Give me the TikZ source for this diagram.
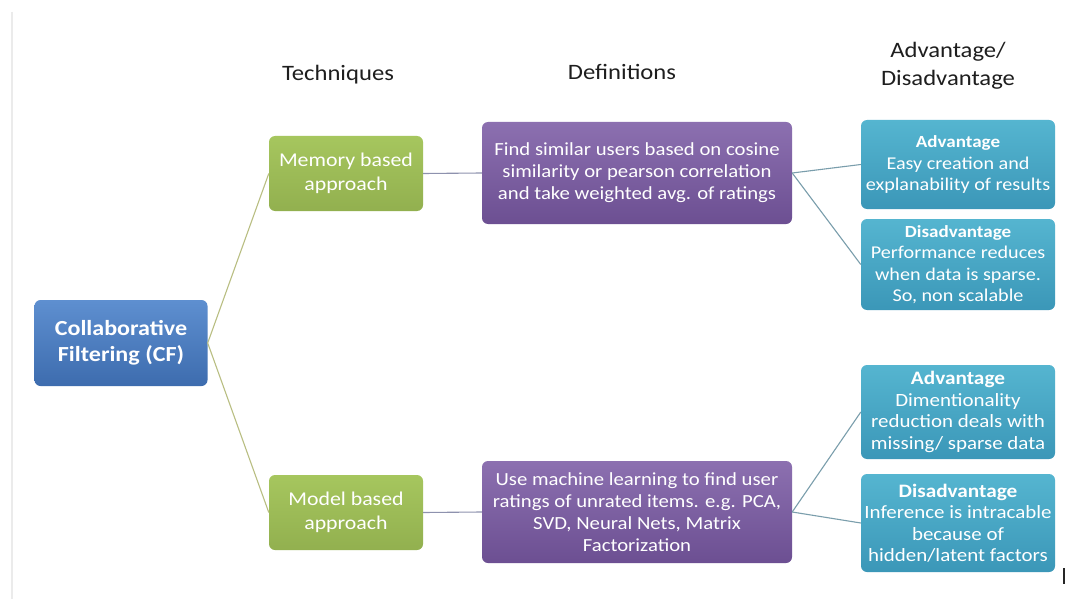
\documentclass[tikz,border=0pt]{standalone}
\usepackage{fontspec}
\setmainfont{Carlito}[FakeStretch=1.12]
\definecolor{cfblueT}{HTML}{5E8FD0}
\definecolor{cfblueB}{HTML}{3D6CAE}
\definecolor{greenT}{HTML}{A6C65E}
\definecolor{greenB}{HTML}{92B04F}
\definecolor{purpT}{HTML}{8C70B0}
\definecolor{purpB}{HTML}{6C4F92}
\definecolor{tealT}{HTML}{55B5D0}
\definecolor{tealB}{HTML}{3B97B8}
\definecolor{lnGreen}{HTML}{B9BE82}
\definecolor{lnPurp}{HTML}{8E92AE}
\definecolor{lnTeal}{HTML}{7A9EAC}
\definecolor{hdr}{HTML}{1E1E1E}
\tikzset{
  box/.style={rounded corners=6pt, align=center, text=white, inner sep=0pt,
    shading=axis, shading angle=0},
  cfbox/.style={box, top color=cfblueT, bottom color=cfblueB,
    minimum width=173pt, minimum height=86pt, font=\fontsize{21.5}{26}\selectfont\bfseries},
  techbox/.style={box, top color=greenT, bottom color=greenB,
    minimum width=154pt, minimum height=75pt, font=\fontsize{19.5}{23.5}\selectfont},
  defbox/.style={box, top color=purpT, bottom color=purpB,
    minimum width=310pt, minimum height=102pt, font=\fontsize{18.5}{22}\selectfont},
  advbox/.style={box, top color=tealT, bottom color=tealB,
    minimum width=194pt, font=\fontsize{18}{21.5}\selectfont},
  advboxb/.style={advbox, font=\fontsize{18.7}{21.5}\selectfont},
  header/.style={text=hdr, align=center, font=\fontsize{22}{28}\selectfont},
  link/.style={line width=1.1pt}
}
\begin{document}
\begin{tikzpicture}[x=1pt, y=-1pt]
  \useasboundingbox[fill=white] (0,0) rectangle (1076,599);
  % faint frame edge on the left
  \draw[black!8, line width=1.5pt] (12,12) -- (12,599);

  % column headers
  \node[header] (hTech) at (338,75) {Techniques};
  \node[header] (hDef) at (622,72) {Definitions};
  \node[header] (hAdv) at (948,66) {Advantage/\\Disadvantage};

  % root
  \node[cfbox] (cf) at (121,343) {Collaborative\\Filtering (CF)};

  % techniques
  \node[techbox] (mem) at (346,173.5) {Memory based\\approach};
  \node[techbox] (mod) at (346,512.5) {Model based\\approach};

  % definitions
  \node[defbox] (def1) at (637,173) {Find similar users based on cosine\\similarity or pearson correlation\\and take weighted avg. of ratings};
  \node[defbox] (def2) at (637,512) {Use machine learning to find user\\ratings of unrated items. e.g. PCA,\\SVD, Neural Nets, Matrix\\Factorization};

  % advantages / disadvantages
  \node[advbox, minimum height=89pt] (adv1) at (958,164.5) {{\fontsize{17}{21.5}\selectfont\textbf{Advantage}}\\Easy creation and\\explanability of results};
  \node[advbox, minimum height=91pt] (dis1) at (958,264.5) {{\fontsize{17}{21.5}\selectfont\textbf{Disadvantage}}\\Performance reduces\\when data is sparse.\\So, non scalable};
  \node[advboxb, minimum height=94pt] (adv2) at (958,412) {{\fontsize{19}{21.5}\selectfont\textbf{Advantage}}\\Dimentionality\\reduction deals with\\missing/ sparse data};
  \node[advboxb, minimum height=98pt] (dis2) at (958,523) {{\fontsize{19}{21.5}\selectfont\textbf{Disadvantage}}\\Inference is intracable\\because of\\hidden/latent factors};

  % connectors
  \draw[link, lnGreen] (cf.east) -- (mem.west);
  \draw[link, lnGreen] (cf.east) -- (mod.west);
  \draw[link, lnPurp] (mem.east) -- (def1.west);
  \draw[link, lnPurp] (mod.east) -- (def2.west);
  \draw[link, lnTeal] (def1.east) -- (adv1.west);
  \draw[link, lnTeal] (def1.east) -- (dis1.west);
  \draw[link, lnTeal] (def2.east) -- (adv2.west);
  \draw[link, lnTeal] (def2.east) -- (dis2.west);

  % small tick mark at the lower right
  \draw[black!85, line width=1.6pt] (1064,568) -- (1064,584);
\end{tikzpicture}
\end{document}
